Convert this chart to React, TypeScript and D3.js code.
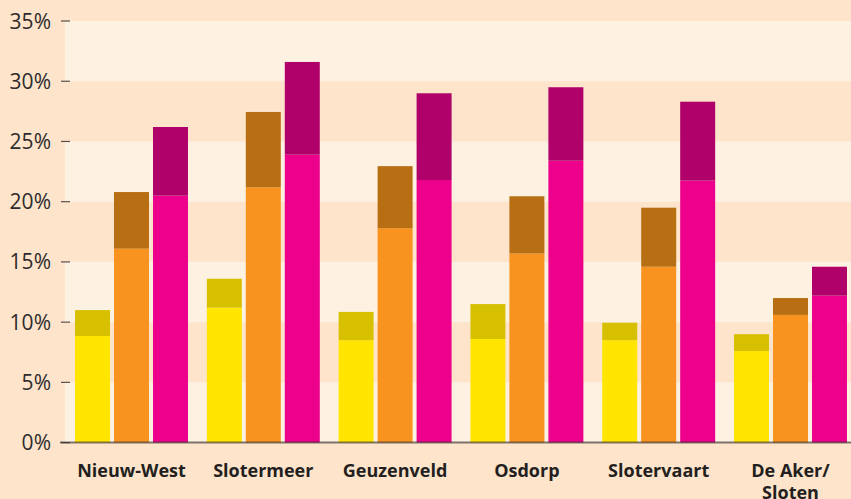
import React from "react";
import * as d3 from "d3";

const categories = ["Nieuw-West", "Slotermeer", "Geuzenveld", "Osdorp", "Slotervaart", "De Aker/ Sloten"];
const seriesKeys = ["yellow", "orange", "magenta"];
// lower (light) segment top values, in %
const yellowBase = [8.85, 11.2, 8.5, 8.6, 8.5, 7.6];
const orangeBase = [16.1, 21.2, 17.8, 15.7, 14.6, 10.6];
const magentaBase = [20.5, 23.9, 21.8, 23.4, 21.75, 12.2];
// total bar height (dark segment on top), in %
const yellowTotal = [11.0, 13.6, 10.85, 11.5, 9.95, 9.0];
const orangeTotal = [20.8, 27.45, 22.95, 20.45, 19.5, 12.0];
const magentaTotal = [26.2, 31.6, 29.0, 29.5, 28.3, 14.6];
const yTicks = [0, 5, 10, 15, 20, 25, 30, 35];

const baseBySeries: Record<string, number[]> = { yellow: yellowBase, orange: orangeBase, magenta: magentaBase };
const totalBySeries: Record<string, number[]> = { yellow: yellowTotal, orange: orangeTotal, magenta: magentaTotal };
const lightColor: Record<string, string> = { yellow: "#ffe500", orange: "#f7931e", magenta: "#ec008c" };
const darkColor: Record<string, string> = { yellow: "#d6c000", orange: "#b86e12", magenta: "#b0006a" };

const W = 851;
const H = 499;
const BG = "#fde4cb";
const BAND = "#fdf1e2";

export default function App() {
  const y = d3.scaleLinear().domain([0, 35]).range([442.6, 21]);
  const x = d3.scaleBand<string>().domain(categories).range([65.6, 856.4]).paddingInner(0.143).paddingOuter(0.0715);
  const xi = d3.scaleBand<string>().domain(seriesKeys).range([0, x.bandwidth()]).paddingInner(0.1026).paddingOuter(0);
  const bands = d3.range(0, 35, 5);

  return (
    <svg width={W} height={H} style={{ position: "absolute", left: 0, top: 0, display: "block" }}>
      <rect x={0} y={0} width={W} height={H} fill={BG} />
      {bands.map((b) =>
        (b / 5) % 2 === 0 ? (
          <rect key={b} x={65} y={y(b + 5)} width={W - 65} height={y(b) - y(b + 5)} fill={BAND} />
        ) : null
      )}
      {categories.map((c, ci) => (
        <g key={c} transform={`translate(${x(c)},0)`}>
          {seriesKeys.map((s) => {
            const base = baseBySeries[s][ci];
            const total = totalBySeries[s][ci];
            return (
              <g key={s}>
                <rect x={xi(s)} y={y(base)} width={xi.bandwidth()} height={y(0) - y(base)} fill={lightColor[s]} />
                <rect x={xi(s)} y={y(total)} width={xi.bandwidth()} height={y(base) - y(total)} fill={darkColor[s]} />
              </g>
            );
          })}
        </g>
      ))}
      {yTicks.map((t) => (
        <g key={t}>
          <line x1={61} x2={70} y1={y(t)} y2={y(t)} stroke="#5a514c" strokeWidth={1.2} />
          <text
            x={51}
            y={y(t) + 7.5}
            textAnchor="end"
            fontFamily="'Open Sans', sans-serif"
            fontSize={21}
            fill="#2f2b2b"
          >
            {t}%
          </text>
        </g>
      ))}
      <line x1={60} x2={W} y1={y(0)} y2={y(0)} stroke="#3b3330" strokeOpacity={0.65} strokeWidth={2} />
      {categories.map((c) => {
        const lines = c.split("/ ");
        const cx = (x(c) as number) + x.bandwidth() / 2;
        return (
          <text
            key={c}
            x={cx}
            y={476.7}
            textAnchor="middle"
            fontFamily="'Open Sans', sans-serif"
            fontWeight={700}
            fontSize={18}
            fill="#231f20"
          >
            {lines.map((l, i) => (
              <tspan key={i} x={cx} dy={i === 0 ? 0 : 22.5}>
                {i < lines.length - 1 ? l + "/" : l}
              </tspan>
            ))}
          </text>
        );
      })}
    </svg>
  );
}
